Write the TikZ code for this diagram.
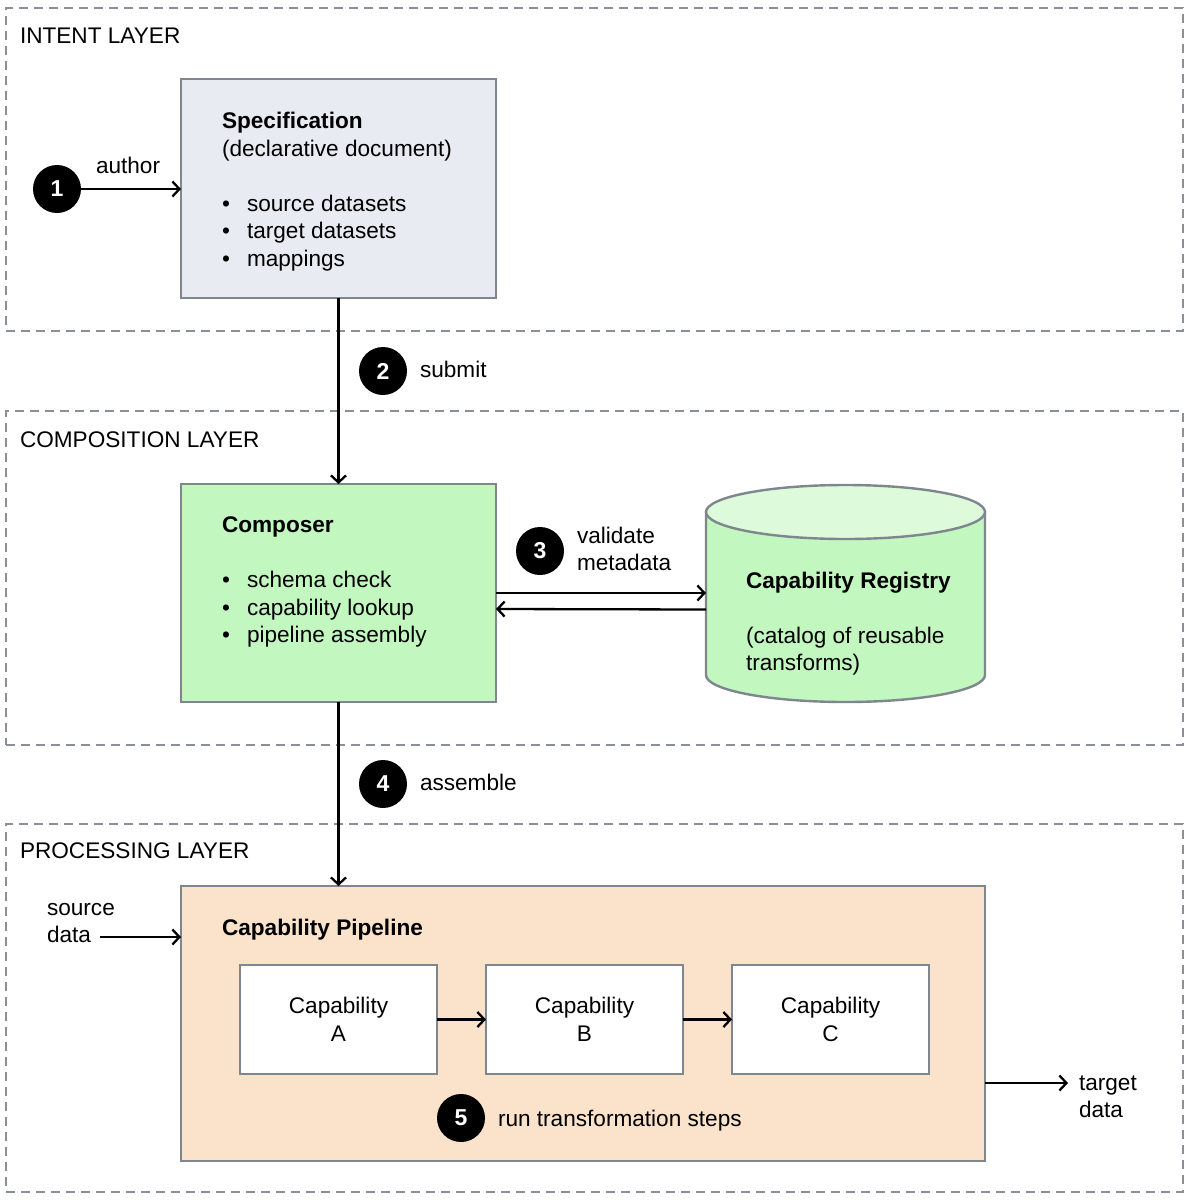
\documentclass[tikz,border=0pt]{standalone}
\usepackage{fontspec}
\setmainfont{Liberation Sans}
\usetikzlibrary{arrows.meta}
\definecolor{layerc}{HTML}{8A9099}
\definecolor{boxc}{HTML}{7F868E}
\definecolor{specfill}{HTML}{E8EBF2}
\definecolor{greenfill}{HTML}{C2F7BF}
\definecolor{greentop}{HTML}{DDFADA}
\definecolor{peach}{HTML}{FAE3CA}
\begin{document}
\begin{tikzpicture}[x=1pt,y=-1pt,
  every node/.style={font=\fontsize{22.6}{27.5}\selectfont, inner sep=0pt, outer sep=0pt},
  layer/.style={draw=layerc, line width=2pt, dash pattern=on 9pt off 6pt, rectangle},
  box/.style={draw=boxc, line width=2.4pt, rectangle},
  lbl/.style={anchor=base west},
  clbl/.style={anchor=base},
  bold/.style={font=\fontsize{22.6}{27.5}\selectfont\bfseries},
  num/.style={circle, fill=black, minimum size=48pt, text=white, font=\fontsize{23}{26}\selectfont\bfseries},
  conn/.style={draw=black, line width=2.3pt, -{Straight Barb[length=7pt,width=15pt]}},
]
\useasboundingbox (0,0) rectangle (1191,1200);

% layers
\node[layer, minimum width=1177pt, minimum height=323pt] (intent) at (594.5,169.5) {};
\node[layer, minimum width=1177pt, minimum height=334pt] (compl) at (594.5,578) {};
\node[layer, minimum width=1177pt, minimum height=368pt] (procl) at (594.5,1008) {};
\node[lbl] (intentT) at (20,43) {INTENT LAYER};
\node[lbl] (complT) at (20,447) {COMPOSITION LAYER};
\node[lbl] (proclT) at (20,858) {PROCESSING LAYER};

% specification
\node[box, fill=specfill, minimum width=315pt, minimum height=219pt] (spec) at (338.5,188.5) {};
\node[lbl, bold] (specT) at (222,128) {Specification};
\node[lbl] (specS) at (222,156) {(declarative document)};
\node[lbl] (sb1) at (222,211) {•};
\node[lbl] (sb2) at (222,238.5) {•};
\node[lbl] (sb3) at (222,266) {•};
\node[lbl] (st1) at (247,211) {source datasets};
\node[lbl] (st2) at (247,238.5) {target datasets};
\node[lbl] (st3) at (247,266) {mappings};

% step 1
\node[num] (n1) at (57,189) {1};
\node[lbl] (authorT) at (96,173) {author};
\draw[conn] (n1.east) -- (spec.west |- n1.east);

% composer
\node[box, fill=greenfill, minimum width=315pt, minimum height=218pt] (comp) at (338.5,593) {};
\node[lbl, bold] (compT) at (222,532) {Composer};
\node[lbl] (cb1) at (222,587) {•};
\node[lbl] (cb2) at (222,615) {•};
\node[lbl] (cb3) at (222,642.5) {•};
\node[lbl] (ct1) at (247,587) {schema check};
\node[lbl] (ct2) at (247,615) {capability lookup};
\node[lbl] (ct3) at (247,642.5) {pipeline assembly};

% step 2
\draw[conn] (spec.south) -- (comp.north);
\node[num] (n2) at (383,371) {2};
\node[lbl] (submitT) at (420,377) {submit};

% registry cylinder
\node[minimum width=279pt, minimum height=217pt] (reg) at (845.5,593.5) {};
\draw[draw=boxc, line width=2.4pt, fill=greenfill] (706,512) -- (706,675)
  arc[start angle=180, end angle=360, x radius=139.5pt, y radius=27pt] -- (985,512) -- cycle;
\draw[draw=boxc, line width=2.4pt, fill=greentop] (845.5,512) ellipse [x radius=139.5pt, y radius=27pt];
\node[lbl, bold] (regT) at (746,588) {Capability Registry};
\node[lbl] (regS1) at (746,643) {(catalog of reusable};
\node[lbl] (regS2) at (746,670) {transforms)};

% step 3
\draw[conn] (comp.east) -- (reg.west |- comp.east);
\draw[conn] ([yshift=-16pt]reg.west) -- ([yshift=-16pt]comp.east);
\node[num] (n3) at (540,551) {3};
\node[lbl] (valT1) at (577,543) {validate};
\node[lbl] (valT2) at (577,570) {metadata};

% pipeline
\node[box, fill=peach, minimum width=804pt, minimum height=275pt] (pipe) at (583,1023.5) {};
\node[lbl, bold] (pipeT) at (222,935) {Capability Pipeline};
\node[box, fill=white, minimum width=197pt, minimum height=109pt] (capA) at (338.5,1019.5) {};
\node[box, fill=white, minimum width=197pt, minimum height=109pt] (capB) at (584.5,1019.5) {};
\node[box, fill=white, minimum width=197pt, minimum height=109pt] (capC) at (830.5,1019.5) {};
\node[clbl] (capA1) at (338.5,1013) {Capability};
\node[clbl] (capA2) at (338.5,1041) {A};
\node[clbl] (capB1) at (584.5,1013) {Capability};
\node[clbl] (capB2) at (584.5,1041) {B};
\node[clbl] (capC1) at (830.5,1013) {Capability};
\node[clbl] (capC2) at (830.5,1041) {C};
\draw[conn] (capA.east) -- (capB.west);
\draw[conn] (capB.east) -- (capC.west);

% step 4
\draw[conn] (comp.south) -- (comp.south |- pipe.north);
\node[num] (n4) at (383,784) {4};
\node[lbl] (asmT) at (420,790) {assemble};

% source / target
\node[lbl] (srcT1) at (47,915) {source};
\node[lbl] (srcT2) at (47,942) {data};
\coordinate (srcStart) at (100,937);
\draw[conn] (srcStart) -- (pipe.west |- srcStart);
\coordinate (tgtEnd) at (1068,1083);
\draw[conn] (pipe.east |- tgtEnd) -- (tgtEnd);
\node[lbl] (tgtT1) at (1079,1090) {target};
\node[lbl] (tgtT2) at (1079,1117) {data};

% step 5
\node[num] (n5) at (461,1118) {5};
\node[lbl] (runT) at (498,1126) {run transformation steps};
\end{tikzpicture}
\end{document}
